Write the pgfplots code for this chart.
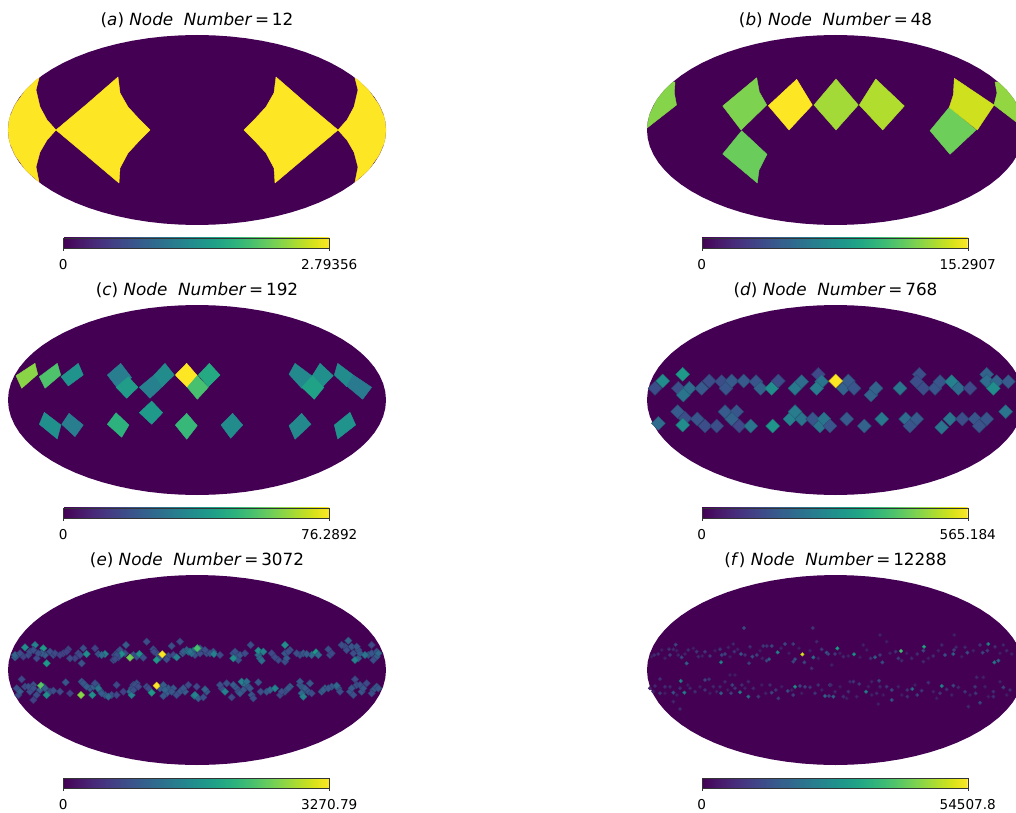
\documentclass[border=0pt]{standalone}
\usepackage{fontspec}
\setmainfont{DejaVu Sans}
\usepackage{pgfplots}
\usepackage{pgfplotstable}
\usepgfplotslibrary{patchplots,colormaps}
\pgfplotsset{compat=1.18}
\definecolor{vzero}{RGB}{68,1,84}
\pgfplotstableread{
cx cy
1.0000 0.0000
0.9962 0.0872
0.9848 0.1736
0.9659 0.2588
0.9397 0.3420
0.9063 0.4226
0.8660 0.5000
0.8192 0.5736
0.7660 0.6428
0.7071 0.7071
0.6428 0.7660
0.5736 0.8192
0.5000 0.8660
0.4226 0.9063
0.3420 0.9397
0.2588 0.9659
0.1736 0.9848
0.0872 0.9962
0.0000 1.0000
-0.0872 0.9962
-0.1736 0.9848
-0.2588 0.9659
-0.3420 0.9397
-0.4226 0.9063
-0.5000 0.8660
-0.5736 0.8192
-0.6428 0.7660
-0.7071 0.7071
-0.7660 0.6428
-0.8192 0.5736
-0.8660 0.5000
-0.9063 0.4226
-0.9397 0.3420
-0.9659 0.2588
-0.9848 0.1736
-0.9962 0.0872
-1.0000 0.0000
-0.9962 -0.0872
-0.9848 -0.1736
-0.9659 -0.2588
-0.9397 -0.3420
-0.9063 -0.4226
-0.8660 -0.5000
-0.8192 -0.5736
-0.7660 -0.6428
-0.7071 -0.7071
-0.6428 -0.7660
-0.5736 -0.8192
-0.5000 -0.8660
-0.4226 -0.9063
-0.3420 -0.9397
-0.2588 -0.9659
-0.1736 -0.9848
-0.0872 -0.9962
0.0000 -1.0000
0.0872 -0.9962
0.1736 -0.9848
0.2588 -0.9659
0.3420 -0.9397
0.4226 -0.9063
0.5000 -0.8660
0.5736 -0.8192
0.6428 -0.7660
0.7071 -0.7071
0.7660 -0.6428
0.8192 -0.5736
0.8660 -0.5000
0.9063 -0.4226
0.9397 -0.3420
0.9659 -0.2588
0.9848 -0.1736
0.9962 -0.0872
}\ellipsetab
\pgfplotsset{
  mapax/.style n args={5}{% x0, y-bottom(px), x1, title, vmax
    scale only axis, enlargelimits=false, clip=true,
    at={(#1pt,812pt-#2pt)}, anchor=south west,
    width=#3pt-#1pt, height=190pt,
    xmin=#1, xmax=#3, ymin=#2-190, ymax=#2, y dir=reverse,
    axis line style={draw=none}, xtick=\empty, ytick=\empty,
    colormap/viridis, point meta min=0, point meta max=#5,
    title={#4}, title style={at={(0.5,1)},anchor=base,yshift=3.5pt,font=\fontsize{16.8}{19}\selectfont},
    colorbar horizontal,
    colorbar style={at={(0.498,-0.0684)},anchor=north,width=266pt,height=10pt,scale only axis,
      xtick={0,#5},xticklabels={0,#5},ytick=\empty,scaled x ticks=false,
      xticklabel style={font=\fontsize{13.6}{15}\selectfont,yshift=-5pt},
      tick align=outside,major tick length=3pt,xtick pos=lower,
      tick style={black!80,line width=0.5pt},axis line style={line width=0.5pt,draw=black!80}},
  },
  pg/.style={patch,patch type=polygon,vertex count=#1,shader=flat,point meta=explicit,forget plot},
}
\newcommand\ellipseplot[3]{\addplot[draw=none,fill=vzero,forget plot] table[x expr=#1+#3*\thisrow{cx},y expr=#2+95*\thisrow{cy}] {\ellipsetab};}
\begin{document}
\begin{tikzpicture}
\path[use as bounding box,clip] (0pt,0pt) rectangle (1016pt,812pt);
\fill[white] (0pt,0pt) rectangle (1016pt,812pt);

% ---------- (a)
\begin{axis}[mapax={8}{225}{386}{(\textit{a}) \textit{Node}\ \ \textit{Number}\,=\,12}{2.79356}]
\ellipseplot{197}{130}{189}
\addplot[pg=12] coordinates {
(56,130)[2.79356] (87,104)[2.79356] (118,77)[2.79356] (120,93)[2.79356] (128,107)[2.79356] (140,120)[2.79356]
(150,130)[2.79356] (140,140)[2.79356] (128,153)[2.79356] (120,168)[2.79356] (119,183)[2.79356] (87,156)[2.79356]};
\addplot[pg=12] coordinates {
(338,130)[2.79356] (307,104)[2.79356] (276,77)[2.79356] (274,93)[2.79356] (266,107)[2.79356] (254,120)[2.79356]
(244,130)[2.79356] (254,140)[2.79356] (266,153)[2.79356] (274,168)[2.79356] (275,183)[2.79356] (307,156)[2.79356]};
\addplot[pg=18] coordinates {
(39,78)[2.79356] (36,90)[2.79356] (40,107)[2.79356] (47,120)[2.79356] (56,130)[2.79356] (47,140)[2.79356] (40,152)[2.79356] (36,167)[2.79356] (39,182)[2.79356]
(25.6,170)[2.79356] (15,155)[2.79356] (9.5,142)[2.79356] (8,130)[2.79356] (9.5,118)[2.79356] (15,105)[2.79356] (25.6,90)[2.79356] (32,84)[2.79356] (36,80)[2.79356]};
\addplot[pg=18] coordinates {
(355,78)[2.79356] (358,90)[2.79356] (354,107)[2.79356] (347,120)[2.79356] (338,130)[2.79356] (347,140)[2.79356] (354,152)[2.79356] (358,167)[2.79356] (355,182)[2.79356]
(368.4,170)[2.79356] (379,155)[2.79356] (384.5,142)[2.79356] (386,130)[2.79356] (384.5,118)[2.79356] (379,105)[2.79356] (368.4,90)[2.79356] (362,84)[2.79356] (358,80)[2.79356]};
\end{axis}

% ---------- (b)
\begin{axis}[mapax={647}{225}{1024}{(\textit{b}) \textit{Node}\ \ \textit{Number}\,=\,48}{15.2907}]
\ellipseplot{835.5}{130}{188.5}
\addplot[pg=4] coordinates {
(768.3,105.7)[15.29] (796.7,79.3)[15.29] (812.3,105)[15.29] (789,130)[15.29]
(814,105)[13.2] (836,79)[13.2] (858.3,105)[13.2] (836,130)[13.2]
(859.3,105)[13.5] (875.7,79)[13.5] (904.3,106)[13.5] (882.7,130)[13.5]
(930,130.7)[11.9] (949.3,107.3)[11.9] (976,130)[11.9] (950,154.3)[11.9]};
\addplot[pg=5] coordinates {
(722.7,106)[12.3] (756.7,77.7)[12.3] (759.3,92)[12.3] (766.7,105)[12.3] (741,130)[12.3]
(722.7,154)[11.8] (741.7,130.7)[11.8] (767,154.3)[11.8] (759,170)[11.8] (757.3,183)[11.8]
(954.3,78.3)[14.2] (994,105)[14.2] (977.3,130)[14.2] (949.3,107.3)[14.2] (953.3,95)[14.2]};
\addplot[pg=8] coordinates {
(673,82)[12.5] (675,82)[12.5] (674.3,93)[12.5] (676.5,105)[12.5] (647,128)[12.5] (649.4,115)[12.5] (656.6,100)[12.5] (664.5,90)[12.5]
(995,82)[12.8] (998,82)[12.8] (1006.5,90)[12.8] (1014.4,100)[12.8] (1021.6,115)[12.8] (1024,128)[12.8] (994,105)[12.8] (997,93)[12.8]};
\end{axis}

% ---------- (c)
\begin{axis}[mapax={8}{495}{386}{(\textit{c}) \textit{Node}\ \ \textit{Number}\,=\,192}{76.2892}]
\ellipseplot{197}{400}{189}
\addplot[pg=4] coordinates {
(16,375.7)[63] (35,363.3)[63] (37.7,374.3)[63] (21.7,388.3)[63]
(39.3,376.7)[55] (57.3,363.3)[55] (60.7,375)[55] (45,388.3)[55]
(61,376.7)[39] (78.3,363.3)[39] (83.3,375)[39] (68.3,386)[39]
(107.3,375)[32] (120.7,363.3)[32] (131.7,377.7)[32] (116.7,387.3)[32]
(116,387.3)[42] (128.3,376.7)[42] (138,387.3)[42] (126.7,398.3)[42]
(139.3,387.3)[33] (154,375)[33] (162.3,386.7)[33] (150,398.3)[33]
(154,375)[37] (165,363.3)[37] (174.3,375)[37] (162.3,386.7)[37]
(175.3,375)[76.29] (186.7,363.3)[76.29] (197.3,375.7)[76.29] (187.3,387.3)[76.29]
(187.3,387.3)[54] (197.3,375.7)[54] (208.3,387.3)[54] (197.3,399.3)[54]
(198.3,375)[46] (209.3,363.3)[46] (220,375)[46] (208.3,386.7)[46]
(289,374.3)[36] (295,363.3)[36] (311.7,375.7)[36] (301.7,388.3)[36]
(312.3,375.7)[38] (320,363.3)[38] (333.3,375.7)[38] (323.3,386)[38]
(301.7,387.3)[44] (312.3,375.7)[44] (324,387.3)[44] (314.3,399.3)[44]
(334.3,375)[37] (337.7,363.3)[37] (353.3,375)[37] (346.7,386.7)[37]
(346.7,386)[31] (353.3,375)[31] (371.7,387.3)[31] (362.7,399.3)[31]
(139.3,412.7)[41] (151.7,401)[41] (162.7,412.7)[41] (151.7,424.3)[41]
(39.3,424.3)[38] (44.3,412.3)[38] (61,425)[38] (57.3,439)[38]
(61.7,424.3)[32] (69,413.3)[32] (83.3,425)[32] (75,436.7)[32]
(107.3,424.3)[49] (116,412.7)[49] (129,425)[49] (121.7,437.3)[49]
(175.3,425)[51] (186.7,413.3)[51] (197.3,425.7)[51] (186.7,439.3)[51]
(221,425)[37] (232.7,413.3)[37] (242.7,425)[37] (230.7,438.3)[37]
(289,425.7)[36] (301.7,413.3)[36] (311,424.3)[36] (295,439.3)[36]
(334.3,425)[39] (350,412.3)[39] (355.7,425)[39] (337.7,439)[39]};
\end{axis}

% ---------- (d)
\begin{axis}[mapax={647}{495}{1024}{(\textit{d}) \textit{Node}\ \ \textit{Number}\,=\,768}{565.184}]
\ellipseplot{835.5}{400}{188.5}
\addplot[scatter,only marks,mark=square*,mark size=4.9pt,mark options={rotate=45},forget plot,
  point meta=\thisrow{t}^1.2*565.184] table[x expr=640+\thisrow{x}/3,y expr=340+\thisrow{y}/3] {
x y t
45 145 .3
68 123 .55
128 103 .6
115 145 .3
148 145 .42
130 165 .45
185 145 .35
208 123 .3
245 125 .3
258 145 .33
275 123 .35
311 123 .35
348 125 .33
362 145 .38
395 145 .55
415 123 .3
465 145 .47
485 125 .42
535 103 .28
545 125 .45
530 145 .48
610 145 .38
625 123 .35
642 145 .33
693 165 .38
708 145 .38
780 145 .45
838 103 .3
830 125 .3
850 145 .3
885 145 .33
900 125 .33
935 125 .5
955 145 .42
990 145 .28
1040 103 .38
1040 123 .42
1070 125 .38
1060 145 .55
1105 125 .35
587 123 1
55 250 .42
113 215 .35
135 235 .3
128 255 .55
172 237 .33
195 258 .3
230 258 .3
255 215 .35
290 215 .33
275 237 .38
298 258 .28
332 258 .45
398 258 .58
450 237 .5
465 215 .48
485 237 .45
518 237 .33
540 258 .45
552 237 .45
570 258 .33
620 237 .35
673 258 .38
725 237 .47
797 237 .42
810 258 .33
830 237 .35
905 262 .45
930 237 .45
967 237 .3
1005 237 .33
1018 258 .32
1040 237 .33
1097 215 .45
};
\end{axis}

% ---------- (e)
\begin{axis}[mapax={8}{765}{386}{(\textit{e}) \textit{Node}\ \ \textit{Number}\,=\,3072}{3270.79}]
\ellipseplot{197}{670}{189}
\addplot[scatter,only marks,mark=square*,mark size=2.6pt,mark options={rotate=45},forget plot,
  point meta=\thisrow{t}^1.2*3270.79] table[x expr=\thisrow{x}/3,y expr=620+\thisrow{y}/3] {
x y t
50 108 .3
70 110 .25
85 105 .28
110 115 .28
135 105 .35
160 105 .3
190 100 .28
205 88 .25
225 115 .25
235 100 .28
345 105 .3
355 112 .3
340 120 .28
355 95 .3
375 100 .28
400 105 .3
410 110 .3
460 88 .3
470 100 .3
480 112 .3
505 108 .28
520 105 .28
548 100 .35
560 90 .35
580 92 .4
585 105 .3
45 112 .35
50 205 .3
55 225 .28
75 200 .28
90 215 .3
100 195 .3
120 210 .35
130 200 .35
150 215 .28
245 185 .33
255 195 .35
270 205 .33
280 200 .35
290 195 .33
300 212 .38
315 225 .35
335 225 .3
400 195 .3
395 205 .3
410 190 .3
390 215 .4
440 200 .28
505 205 .33
520 205 .33
540 215 .33
555 215 .35
500 220 .35
480 205 .33
45 105 .38
75 82 .55
60 100 .3
90 95 .3
105 75 .5
100 90 .3
130 85 .6
125 100 .35
115 100 .3
150 95 .3
140 130 .6
165 100 .28
180 105 .25
200 95 .25
210 115 .28
245 130 .32
250 85 .3
240 105 .28
260 102 .55
285 85 .25
295 102 .3
315 102 .5
305 105 .4
378 75 .35
360 90 .3
365 102 .55
350 105 .3
345 118 .28
390 113 .82
418 102 .55
430 113 .3
440 65 .3
462 95 .28
470 120 .6
487 103 1
500 118 .3
530 112 .5
515 78 .3
540 65 .28
550 95 .35
565 95 .45
575 100 .42
592 85 .55
600 100 .3
65 178 .28
60 215 .35
85 200 .3
100 205 .3
123 197 .78
110 225 .3
135 205 .35
140 225 .55
100 240 .25
160 212 .3
180 215 .28
197 187 .33
210 220 .25
243 225 .85
250 190 .33
260 200 .35
277 225 .55
285 190 .3
295 205 .45
305 220 .35
325 230 .4
350 195 .28
350 225 .28
370 215 .25
395 225 .5
405 195 .3
400 210 .3
415 200 .28
445 205 .28
455 218 .6
470 197 1
490 195 .35
495 210 .38
490 228 .33
515 215 .33
530 225 .3
550 205 .33
565 195 .28
583 227 .5
590 200 .28
};
\addplot[scatter,only marks,mark=square*,mark size=2.6pt,mark options={rotate=45},forget plot,
  point meta=\thisrow{t}^1.2*3270.79] table[x expr=190+\thisrow{x}/3,y expr=620+\thisrow{y}/3] {
x y t
30 85 .3
50 100 .3
70 95 .3
130 100 .3
140 105 .33
145 120 .3
205 105 .4
210 115 .4
245 100 .28
265 120 .28
285 100 .33
285 125 .3
300 90 .3
330 105 .3
340 100 .33
365 105 .4
420 105 .3
465 80 .3
485 80 .33
490 100 .3
505 90 .33
505 115 .35
535 105 .3
545 100 .33
560 110 .35
25 235 .35
50 215 .33
95 205 .3
110 190 .3
140 205 .33
145 215 .3
165 195 .4
175 200 .35
160 210 .33
185 225 .33
230 215 .33
285 215 .3
300 200 .35
270 225 .28
330 195 .33
340 205 .4
335 220 .4
355 215 .33
395 215 .35
405 205 .38
425 200 .33
445 205 .33
480 215 .33
500 195 .3
515 215 .33
510 195 .3
550 210 .33
560 200 .33
22 85 .75
0 95 .45
45 90 .3
60 100 .3
72 102 .5
90 105 .28
135 95 .3
130 115 .55
150 105 .33
165 100 .28
182 75 .3
205 92 .55
220 95 .5
215 122 .42
255 112 .28
285 75 .55
295 95 .3
290 115 .35
320 100 .3
350 102 .35
378 97 .6
385 105 .4
415 88 .3
425 100 .28
455 75 .3
475 62 .38
470 90 .3
500 80 .33
495 120 .5
510 100 .33
525 105 .45
545 75 .28
550 120 .3
560 95 .3
565 100 .4
15 225 .5
45 208 .38
40 232 .3
90 195 .3
105 215 .5
125 232 .28
130 195 .35
155 185 .5
170 185 .42
150 220 .35
180 205 .33
190 235 .3
205 187 .33
212 215 .3
240 210 .38
255 205 .5
275 215 .3
295 205 .33
330 185 .33
340 230 .5
345 205 .35
360 190 .33
365 220 .3
400 210 .35
415 205 .33
440 197 .4
450 215 .3
485 205 .33
495 178 .28
490 225 .3
520 205 .33
530 190 .28
545 220 .3
565 205 .33
};
\end{axis}

% ---------- (f)
\begin{axis}[mapax={647}{765}{1024}{(\textit{f}) \textit{Node}\ \ \textit{Number}\,=\,12288}{54507.8}]
\ellipseplot{835.5}{670}{188.5}
\addplot[scatter,only marks,mark=square*,mark size=1.3pt,mark options={rotate=45},forget plot,
  point meta=\thisrow{t}*54507.8] table[x expr=645+\thisrow{x}/3,y expr=630+\thisrow{y}/3] {
x y t
20 80 .07
50 60 .07
60 85 .08
95 62 .07
120 72 .08
145 55 .07
172 78 .08
210 62 .07
250 52 .08
255 80 .07
278 58 .08
345 62 .07
352 85 .08
408 55 .08
432 70 .07
462 55 .07
495 62 .08
520 85 .07
25 185 .08
60 190 .07
95 195 .08
128 165 .07
165 170 .08
195 190 .07
215 185 .08
248 180 .07
300 175 .08
350 165 .07
362 190 .08
410 170 .07
440 180 .08
470 190 .07
530 180 .08
297 -6 .22
503 -6 .15
105 237 .1
28 75 .12
40 72 .12
72 58 .13
75 75 .16
92 44 .2
85 58 .1
110 82 .2
100 75 .1
125 100 .3
130 60 .12
155 65 .14
180 65 .15
160 80 .1
195 78 .14
225 58 .14
230 75 .2
240 72 .18
228 97 .45
265 42 .1
268 65 .13
288 72 .25
300 75 .12
315 50 .12
322 80 .22
335 75 .18
312 100 .18
355 48 .16
365 48 .14
380 48 .2
398 67 .45
372 88 .3
365 92 .2
420 42 .2
445 42 .18
450 88 .25
445 95 .2
505 82 .35
478 97 .2
515 35 .1
530 58 .15
545 68 .28
550 72 .2
500 115 .12
45 147 .12
107 153 .45
180 150 .18
192 148 .14
45 190 .16
60 170 .12
85 188 .25
75 170 .1
105 175 .12
118 188 .42
135 175 .1
150 185 .12
180 180 .12
205 170 .1
228 190 .3
240 155 .1
225 170 .1
262 165 .2
270 175 .14
258 190 .18
285 187 .4
290 165 .12
310 155 .1
310 200 .35
340 200 .16
325 175 .1
375 165 .1
380 188 .2
392 180 .14
400 205 .16
428 183 .22
450 170 .5
465 168 .18
480 170 .18
495 172 .14
445 195 .18
520 165 .13
510 190 .14
540 198 .3
555 165 .25
552 198 .18
85 215 .1
270 135 .06
255 135 .06
30 168 .1
15 175 .1
472 73 .95
};
\addplot[scatter,only marks,mark=square*,mark size=1.3pt,mark options={rotate=45},forget plot,
  point meta=\thisrow{t}*54507.8] table[x expr=830+\thisrow{x}/3,y expr=630+\thisrow{y}/3] {
x y t
30 70 .07
55 78 .08
90 82 .07
110 60 .07
180 70 .08
230 70 .07
295 85 .07
325 62 .08
395 80 .07
430 62 .08
510 70 .07
545 72 .08
30 170 .07
50 205 .07
80 200 .08
115 170 .07
125 195 .08
160 195 .07
205 170 .08
215 195 .07
255 165 .07
310 185 .08
320 205 .07
365 195 .08
420 195 .07
465 170 .08
475 200 .07
530 195 .07
22 55 .55
72 73 .5
135 82 .3
150 15 .08
170 35 .07
100 45 .08
15 72 .14
40 80 .1
122 85 .12
150 75 .14
157 97 .22
213 63 .7
197 65 .13
205 85 .15
215 92 .1
245 85 .1
282 50 .6
280 62 .2
262 72 .12
310 78 .12
345 75 .22
335 45 .1
370 72 .3
372 60 .16
373 15 .08
378 52 .1
412 68 .22
405 52 .1
450 45 .12
458 68 .2
475 42 .45
472 62 .16
495 50 .12
493 97 .4
505 92 .3
520 45 .1
530 62 .1
280 95 .1
5 105 .08
2 165 .12
70 155 .14
88 162 .15
10 200 .3
40 200 .12
15 185 .1
55 185 .12
108 185 .42
125 155 .08
147 152 .2
150 170 .1
170 170 .14
185 180 .2
140 190 .1
185 210 .25
232 180 .14
247 177 .35
275 182 .14
262 195 .18
232 200 .12
295 158 .12
335 168 .45
330 190 .14
350 178 .12
370 167 .2
385 172 .1
405 185 .15
435 170 .15
440 142 .1
437 190 .15
460 142 .08
490 185 .12
520 172 .18
510 155 .08
450 218 .2
415 230 .1
490 200 .12
540 180 .1
60 155 .1
145 222 .08
};
\end{axis}
\end{tikzpicture}
\end{document}
